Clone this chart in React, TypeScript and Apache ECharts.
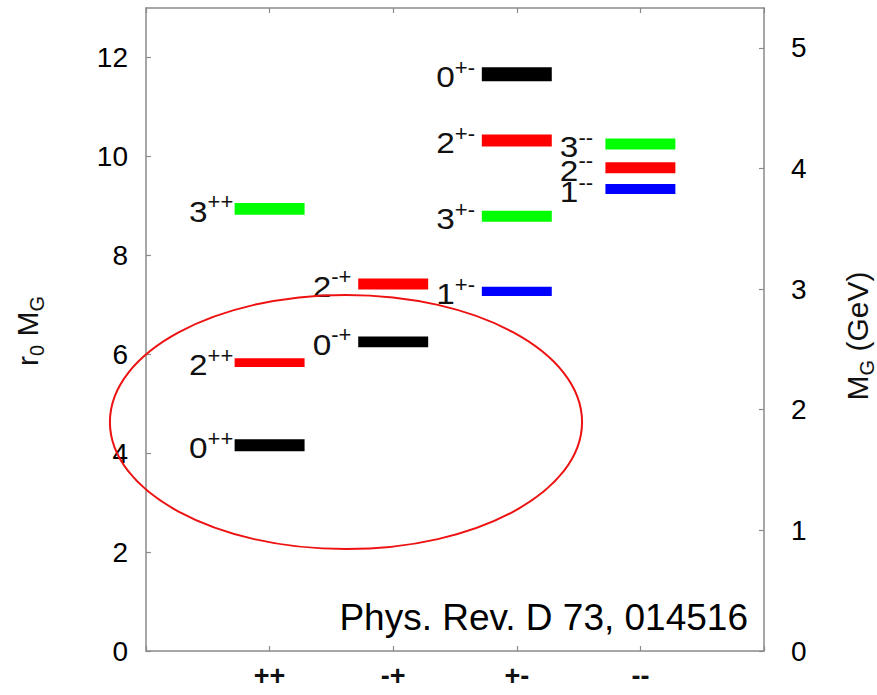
import React, { useEffect, useRef } from "react";
import * as echarts from "echarts";

// P C channels (x categories)
const categories = ["++", "-+", "+-", "--"];
// Glueball states (Chen et al., Phys. Rev. D 73, 014516)
const stateJ = ["0", "2", "3", "0", "2", "1", "3", "2", "0", "1", "2", "3"];
const statePC = ["++", "++", "++", "-+", "-+", "+-", "+-", "+-", "+-", "--", "--", "--"];
const stateMass = [4.16, 5.83, 8.94, 6.25, 7.42, 7.27, 8.79, 10.32, 11.66, 9.34, 9.77, 10.25];
const stateErr = [0.12, 0.09, 0.12, 0.11, 0.11, 0.095, 0.11, 0.12, 0.14, 0.1, 0.11, 0.11];
// r0^-1 in GeV, used for the right axis
const r0inv = 0.41;
// Annotation ellipse in data units: centre x, centre y, radius x, radius y
const ellipseData = [1.618, 4.63, 1.91, 2.57];

const FONT = "'Liberation Sans', Arial, Helvetica, sans-serif";
const jColor: Record<string, string> = { "0": "#000000", "1": "#0000ff", "2": "#ff0000", "3": "#00ff00" };
const frameColor = "#8a8a8a";

export default function App() {
  const ref = useRef<HTMLDivElement>(null);
  useEffect(() => {
    if (!ref.current) return;
    const chart = echarts.init(ref.current, undefined, { renderer: "svg" });
    const data = stateMass.map((m, i) => [categories.indexOf(statePC[i]) + 1, m, stateErr[i], i]);

    const axisLineStyle = { show: true, onZero: false, lineStyle: { color: frameColor, width: 1.5 } };
    const tickStyle = { show: true, inside: true, length: 5, lineStyle: { color: frameColor, width: 1.2 } };

    const option: any = {
      animation: false,
      backgroundColor: "#ffffff",
      grid: { left: 146, right: 113, top: 8, bottom: 44, containLabel: false },
      xAxis: [
        {
          type: "value", position: "bottom", min: 0, max: 5, interval: 1,
          axisLine: axisLineStyle, axisTick: tickStyle, splitLine: { show: false },
          axisLabel: {
            margin: 11, fontSize: 27, lineHeight: 27, fontWeight: "bold", color: "#111", fontFamily: FONT,
            formatter: (v: number) => categories[v - 1] ?? "",
          },
        },
        {
          type: "value", position: "top", min: 0, max: 5, interval: 1,
          axisLine: axisLineStyle, axisTick: tickStyle, splitLine: { show: false },
          axisLabel: { show: false },
        },
      ],
      yAxis: [
        {
          type: "value", position: "left", min: 0, max: 13, interval: 2,
          axisLine: axisLineStyle, axisTick: tickStyle, splitLine: { show: false },
          axisLabel: { margin: 18, fontSize: 28, color: "#000", fontFamily: FONT, showMaxLabel: false },
        },
        {
          type: "value", position: "right", min: 0, max: 13 * r0inv, interval: 1,
          axisLine: axisLineStyle, axisTick: tickStyle, splitLine: { show: false },
          axisLabel: { margin: 27, fontSize: 28, color: "#000", fontFamily: FONT, showMaxLabel: false },
        },
      ],
      series: [
        {
          type: "custom",
          xAxisIndex: 0,
          yAxisIndex: 0,
          data,
          clip: false,
          renderItem: (params: any, api: any) => {
            const cat = api.value(0);
            const m = api.value(1);
            const e = api.value(2);
            const i = api.value(3);
            const p1 = api.coord([cat - 0.283, m + e]);
            const p2 = api.coord([cat + 0.283, m - e]);
            const c = api.coord([cat, m]);
            const J = stateJ[i];
            const sup = statePC[i];
            return {
              type: "group",
              children: [
                {
                  type: "rect",
                  shape: { x: p1[0], y: p1[1], width: p2[0] - p1[0], height: p2[1] - p1[1] },
                  style: { fill: jColor[J] },
                },
                {
                  type: "text",
                  x: p1[0] - 27,
                  y: c[1] + 3,
                  scaleX: 1.15,
                  style: { text: J, align: "right", verticalAlign: "middle", fontSize: 29, fontFamily: FONT, fill: "#111" },
                },
                {
                  type: "text",
                  x: p1[0] - 27,
                  y: c[1] - 7,
                  style: { text: sup, align: "left", verticalAlign: "middle", fontSize: 22, fontFamily: FONT, fill: "#111" },
                },
              ],
            };
          },
        },
      ],
      graphic: [
        {
          id: "ytitle",
          type: "text",
          x: 27,
          y: 331,
          rotation: Math.PI / 2,
          style: {
            text: "{a|r}{b|0}{a| M}{b|G}",
            align: "center",
            verticalAlign: "middle",
            fill: "#111",
            rich: {
              a: { fontSize: 30, fontFamily: FONT, lineHeight: 40, verticalAlign: "middle", fill: "#111" },
              b: { fontSize: 20, fontFamily: FONT, lineHeight: 16, verticalAlign: "bottom", fill: "#111" },
            },
          },
        },
        {
          id: "y2title",
          type: "text",
          x: 857,
          y: 336,
          rotation: Math.PI / 2,
          style: {
            text: "{a|M}{b|G}{a| (GeV)}",
            align: "center",
            verticalAlign: "middle",
            fill: "#111",
            rich: {
              a: { fontSize: 30, fontFamily: FONT, lineHeight: 40, verticalAlign: "middle", fill: "#111" },
              b: { fontSize: 20, fontFamily: FONT, lineHeight: 16, verticalAlign: "bottom", fill: "#111" },
            },
          },
        },
        {
          id: "ref",
          type: "text",
          x: 748,
          y: 617,
          style: {
            text: "Phys. Rev. D 73, 014516",
            align: "right",
            verticalAlign: "middle",
            fontSize: 37,
            fontFamily: FONT,
            fill: "#000",
          },
        },
      ],
    };
    chart.setOption(option);

    const [ecx, ecy, erx, ery] = ellipseData;
    const c = chart.convertToPixel({ xAxisIndex: 0, yAxisIndex: 0 }, [ecx, ecy]) as number[];
    const e = chart.convertToPixel({ xAxisIndex: 0, yAxisIndex: 0 }, [ecx + erx, ecy + ery]) as number[];
    chart.setOption({
      graphic: [
        {
          id: "ellipse",
          type: "ellipse",
          z: 100,
          shape: { cx: c[0], cy: c[1], rx: e[0] - c[0], ry: c[1] - e[1] },
          style: { fill: "none", stroke: "#ee1111", lineWidth: 2 },
        },
      ],
    });

    return () => chart.dispose();
  }, []);

  return (
    <div
      ref={ref}
      style={{ position: "absolute", left: 0, top: 0, width: 877, height: 695, background: "#fff" }}
    />
  );
}
